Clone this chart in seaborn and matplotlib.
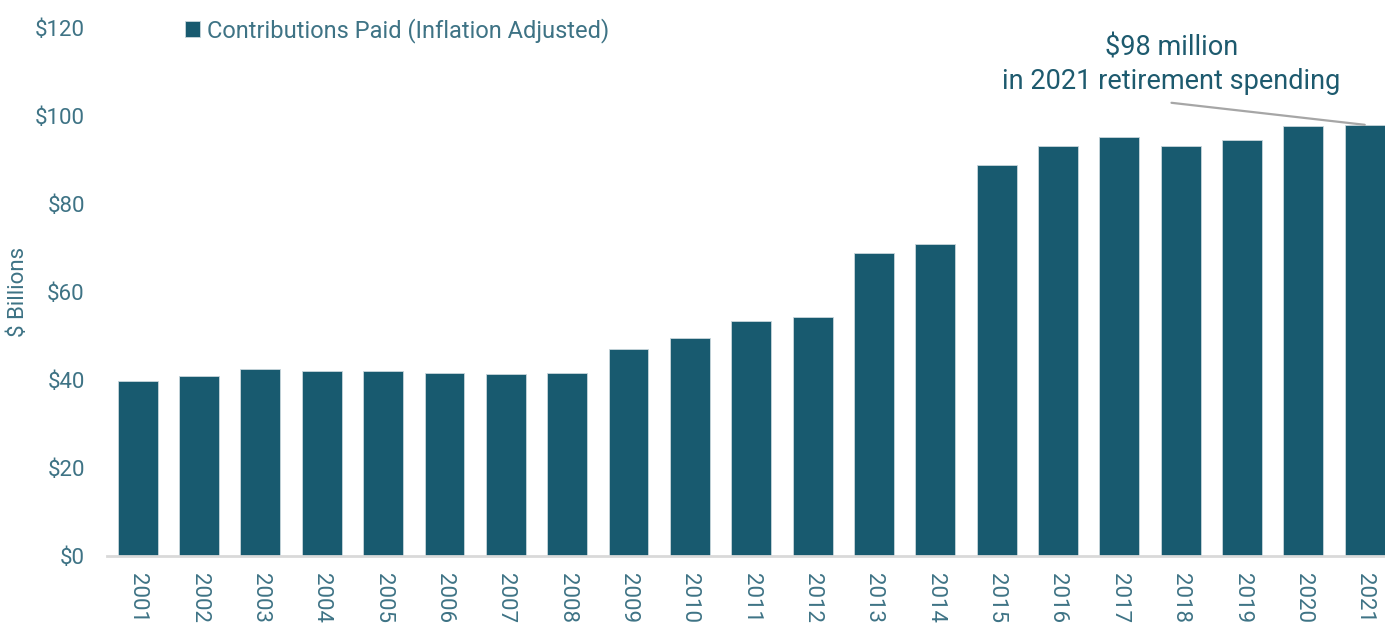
import matplotlib
matplotlib.use("Agg")
import matplotlib.pyplot as plt
import seaborn as sns
import pandas as pd

# Annual contributions paid, inflation adjusted ($ billions)
years = [str(y) for y in range(2001, 2022)]
contributions = [39.8, 40.9, 42.4, 42.0, 42.0, 41.5, 41.3, 41.5, 47.0, 49.5,
                 53.4, 54.3, 68.8, 70.8, 88.9, 93.2, 95.2, 93.2, 94.6, 97.7, 98.0]
y_ticks = [0, 20, 40, 60, 80, 100, 120]
y_tick_labels = ["$0", "$20", "$40", "$60", "$80", "$100", "$120"]
series_name = "Contributions Paid (Inflation Adjusted)"
callout_lines = ["$98 million", "in 2021 retirement spending"]

BAR = "#185a6f"
TICK = "#3e7385"
NOTE = "#1d5a6e"

sns.set_theme(style="white")
plt.rcParams["font.family"] = ["Roboto", "DejaVu Sans"]

df = pd.DataFrame({"year": years, "value": contributions})

fig = plt.figure(figsize=(13.85, 6.23), dpi=100)
ax = fig.add_axes([107 / 1385, (623 - 556) / 623, 1 - 107 / 1385, 528 / 623])

sns.barplot(data=df, x="year", y="value", color=BAR, width=0.65,
            edgecolor="#c9d6dc", linewidth=0.6, saturation=1, ax=ax,
            label=series_name)

ax.set_ylim(0, 120)
ax.set_xlim(-0.5, 20.33)
ax.set_yticks(y_ticks)
ax.set_yticklabels(y_tick_labels)
ax.tick_params(axis="y", length=0, pad=16, labelsize=16, labelcolor=TICK)
ax.tick_params(axis="x", length=0, pad=12, labelsize=16, labelcolor=TICK,
               labelrotation=270)
for lbl in ax.get_xticklabels():
    lbl.set_verticalalignment("top")
    lbl.set_horizontalalignment("center")

ax.set_xlabel("")
ax.set_ylabel("$ Billions", fontsize=16, color=TICK)
ax.yaxis.set_label_coords(-0.061, 0.5)

for side in ["top", "right", "left"]:
    ax.spines[side].set_visible(False)
ax.spines["bottom"].set_color("#d9d9d9")
ax.spines["bottom"].set_linewidth(2)
ax.grid(False)

leg = ax.legend(loc="upper left", bbox_to_anchor=(0.054, 1.037), frameon=False,
                fontsize=17, handlelength=0.62, handleheight=0.62,
                handletextpad=0.3, borderaxespad=0)
for t in leg.get_texts():
    t.set_color(TICK)

# Callout for the latest year
last = len(years) - 1
ax.annotate("", xy=(last, contributions[-1]), xytext=(last - 3.15, contributions[-1] + 5),
            arrowprops=dict(arrowstyle="-", color="#a6a6a6", lw=1.6,
                            shrinkA=0, shrinkB=0))
ax.text(last - 3.15, contributions[-1] + 6.8, "\n".join(callout_lines),
        ha="center", va="bottom", fontsize=19.5, color=NOTE, linespacing=1.3)

fig.savefig("out.png", dpi=100)
